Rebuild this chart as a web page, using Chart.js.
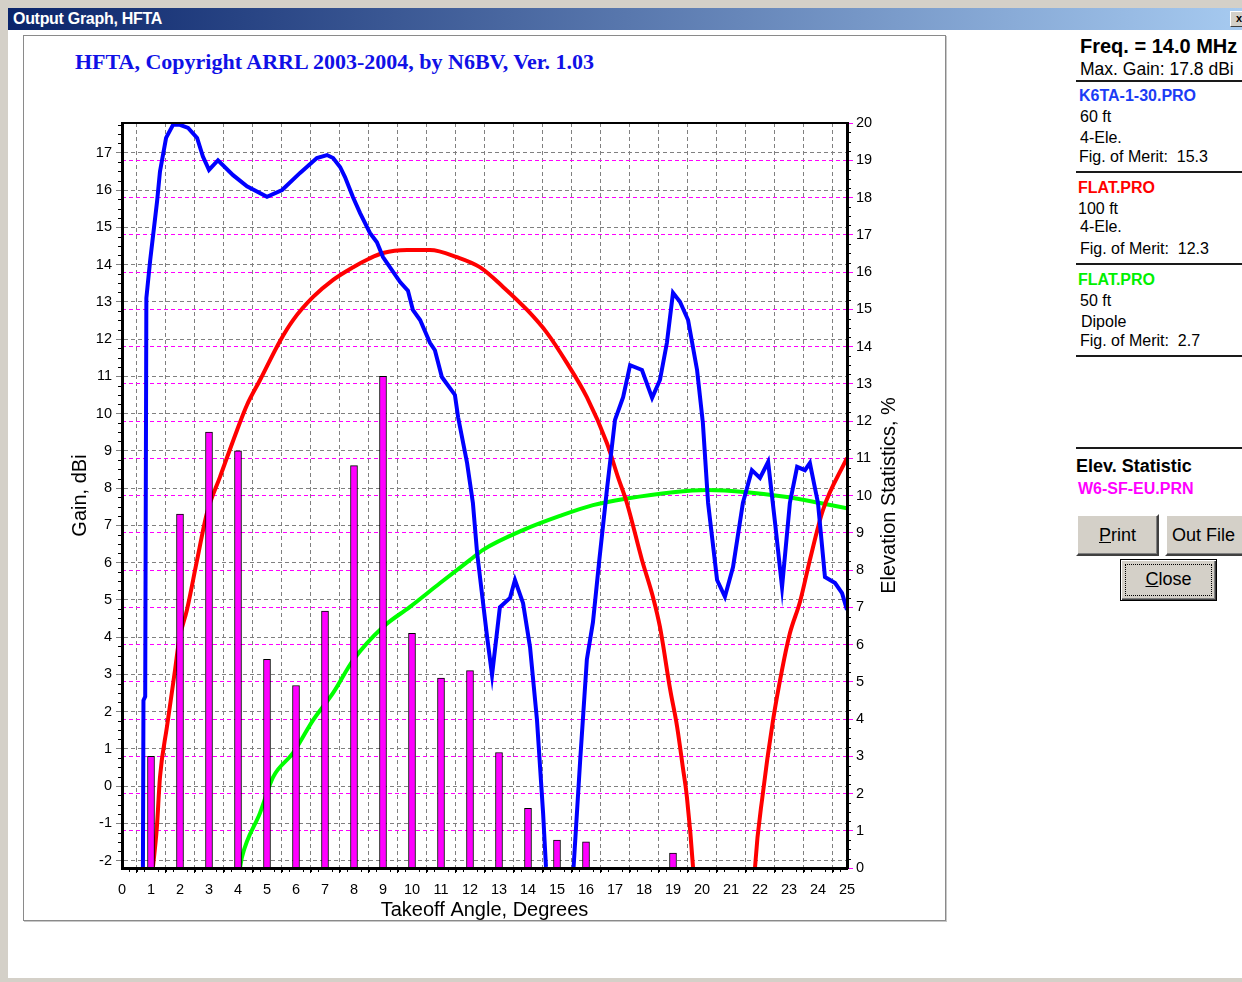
<!DOCTYPE html>
<html><head><meta charset="utf-8">
<script src="https://cdn.jsdelivr.net/npm/chart.js@4.4.1/dist/chart.umd.min.js"></script>
<style>
html,body{margin:0;padding:0;}
body{width:1242px;height:982px;background:#d4d0c8;position:relative;overflow:hidden;font-family:"Liberation Sans",Arial,sans-serif;}
#titlebar{position:absolute;left:8px;top:8px;width:1234px;height:22px;background:linear-gradient(to right,#0a246a,#a6caf0);}
#titlebar .t{position:absolute;left:5px;top:2px;color:#fff;font:bold 16px "Liberation Sans",Arial,sans-serif;letter-spacing:-0.3px;}
#xbtn{position:absolute;left:1230px;top:11px;width:16px;height:14px;background:#d4d0c8;border-top:1px solid #fff;border-left:1px solid #fff;border-right:1px solid #404040;border-bottom:1px solid #404040;font:bold 11px "Liberation Sans";text-align:center;line-height:13px;color:#000;}
#client{position:absolute;left:8px;top:30px;width:1234px;height:948px;background:#fff;}
#panel{position:absolute;left:23px;top:35px;width:921px;height:884px;border:1px solid #8a8a8a;box-shadow:1px 1px 0 #c8c8c8;background:#fff;}
#ctitle{position:absolute;left:75px;top:49px;font:bold 22px "Liberation Serif","Times New Roman",serif;color:#1010e6;white-space:nowrap;}
.r{position:absolute;left:1080px;white-space:nowrap;line-height:20px;font-size:16px;color:#000;}
.b{font-weight:bold;}
.sep{position:absolute;left:1076px;width:166px;height:0;border-top:2px solid #1a1a1a;}
.btn{position:absolute;background:#d4d0c8;box-sizing:border-box;border-top:2px solid #fff;border-left:2px solid #fff;border-right:2px solid #404040;border-bottom:2px solid #404040;box-shadow:inset -1px -1px 0 #808080;font-size:18px;color:#000;text-align:center;}
#chartwrap{position:absolute;left:0;top:0;width:1242px;height:982px;}
</style></head>
<body>
<div id="titlebar"><span class="t">Output Graph, HFTA</span></div>
<div id="xbtn">x</div>
<div id="client"></div>
<div id="panel"></div>
<div id="ctitle">HFTA, Copyright ARRL 2003-2004, by N6BV, Ver. 1.03</div>

<div class="r b" style="top:36px;font-size:20px;">Freq. = 14.0 MHz</div>
<div class="r" style="top:59px;font-size:17.5px;">Max. Gain: 17.8 dBi</div>
<div class="sep" style="top:80px;"></div>
<div class="r b" style="top:86px;left:1079px;color:#1b3cf5;">K6TA-1-30.PRO</div>
<div class="r" style="top:107px;">60 ft</div>
<div class="r" style="top:128px;">4-Ele.</div>
<div class="r" style="top:147px;left:1079px;">Fig. of Merit:&nbsp; 15.3</div>
<div class="sep" style="top:171px;"></div>
<div class="r b" style="top:178px;left:1078px;color:#ff0000;">FLAT.PRO</div>
<div class="r" style="top:199px;left:1078px;">100 ft</div>
<div class="r" style="top:217px;">4-Ele.</div>
<div class="r" style="top:239px;">Fig. of Merit:&nbsp; 12.3</div>
<div class="sep" style="top:263px;"></div>
<div class="r b" style="top:270px;left:1078px;color:#00f000;">FLAT.PRO</div>
<div class="r" style="top:291px;">50 ft</div>
<div class="r" style="top:312px;left:1081px;">Dipole</div>
<div class="r" style="top:331px;">Fig. of Merit:&nbsp; 2.7</div>
<div class="sep" style="top:355px;"></div>
<div class="sep" style="top:447px;"></div>
<div class="r b" style="top:456px;left:1076px;font-size:18px;">Elev. Statistic</div>
<div class="r b" style="top:479px;left:1078px;color:#ff00ff;">W6-SF-EU.PRN</div>
<div class="btn" style="left:1076px;top:514px;width:83px;height:42px;line-height:38px;"><u>P</u>rint</div>
<div class="btn" style="left:1165px;top:514px;width:83px;height:42px;line-height:38px;text-align:left;padding-left:5px;">Out File</div>
<div class="btn" style="left:1120px;top:559px;width:97px;height:42px;line-height:38px;border:1px solid #000;box-shadow:inset 1px 1px 0 #fff,inset -1px -1px 0 #404040,inset -2px -2px 0 #808080;">
  <div style="position:absolute;left:4px;top:4px;right:4px;bottom:4px;border:1px dotted #000;"></div><u>C</u>lose</div>

<div id="chartwrap"><canvas id="c" width="1242" height="982"></canvas></div>

<script>
// ---- data ----
const angleTicks = [0,1,2,3,4,5,6,7,8,9,10,11,12,13,14,15,16,17,18,19,20,21,22,23,24,25];
const gainTicks = [-2,-1,0,1,2,3,4,5,6,7,8,9,10,11,12,13,14,15,16,17];
const statTicks = [0,1,2,3,4,5,6,7,8,9,10,11,12,13,14,15,16,17,18,19,20];

// K6TA-1-30.PRO, 60 ft, 4-Ele. (gain, dBi)
const k6taAngle = [0.72,0.74,0.80,0.84,0.97,1.21,1.31,1.52,1.76,2.0,2.28,2.59,2.79,3.0,3.31,3.83,4.31,5.0,5.52,6.14,6.72,7.07,7.28,7.52,7.69,7.97,8.21,8.55,8.79,9.0,9.59,9.86,10.03,10.28,10.62,10.79,11.03,11.48,11.59,11.9,12.1,12.24,12.59,12.76,13.03,13.38,13.55,13.83,14.07,14.31,14.52,14.62,14.8,15.4,15.57,15.8,16.03,16.24,16.45,16.72,17.0,17.28,17.52,17.93,18.28,18.55,18.79,19.0,19.24,19.52,19.83,20.03,20.21,20.52,20.79,21.07,21.41,21.72,22.0,22.28,22.52,22.76,23.03,23.28,23.55,23.72,24.0,24.24,24.59,24.83,25.0];
const k6taGain  = [-2.6,2.3,2.4,13.1,14.1,15.7,16.5,17.4,17.75,17.75,17.67,17.4,16.9,16.54,16.8,16.4,16.1,15.82,16.0,16.46,16.86,16.94,16.86,16.62,16.35,15.8,15.38,14.85,14.6,14.2,13.53,13.3,12.78,12.51,11.9,11.7,10.98,10.5,9.9,8.67,7.6,6.3,4.0,2.98,4.8,5.05,5.53,4.91,3.73,1.77,-0.72,-2.17,-3.5,-3.5,-2.2,0.7,3.4,4.4,6.0,7.95,9.83,10.44,11.3,11.17,10.42,10.9,11.9,13.24,13.0,12.51,11.17,9.75,7.6,5.53,5.08,5.88,7.6,8.48,8.27,8.7,7.06,5.34,7.6,8.57,8.48,8.67,7.6,5.61,5.45,5.18,4.73];

// FLAT.PRO, 100 ft, 4-Ele. (gain, dBi)
const flat100Angle = [1.05,1.2,1.31,1.55,1.83,1.97,2.24,2.59,2.93,3.38,3.97,4.31,4.76,5.45,5.9,6.59,7.28,7.97,8.5,9.0,9.83,10.62,11.55,12.34,13.14,13.97,14.66,15.34,16.03,16.72,17.1,17.41,17.93,18.3,18.55,18.9,19.14,19.34,19.48,19.69,19.75,20.7,21.78,21.83,22.1,22.45,22.76,23.03,23.38,23.72,24.17,25.0];
const flat100Gain  = [-2.3,-1.13,0.24,1.59,3.12,3.92,4.73,6.07,7.33,8.3,9.56,10.23,10.9,11.95,12.51,13.13,13.59,13.93,14.15,14.31,14.39,14.39,14.2,13.93,13.4,12.78,12.16,11.36,10.44,9.21,8.3,7.6,6.07,5.1,4.27,2.6,1.6,0.5,-0.3,-2.17,-3.0,null,-3.0,-2.17,-0.19,1.77,3.12,4.1,4.95,6.07,7.41,8.81];

// FLAT.PRO, 50 ft, Dipole (gain, dBi)
const dipoleAngle = [4.07,4.14,4.76,5.21,5.9,6.59,7.28,7.97,9.0,9.93,10.97,12.0,12.45,13.83,15.1,16.24,17.41,19.0,20.17,21.55,22.93,24.07,25.0];
const dipoleGain  = [-2.2,-1.9,-0.72,0.24,0.89,1.77,2.5,3.38,4.27,4.81,5.45,6.07,6.34,6.87,7.25,7.54,7.72,7.89,7.95,7.89,7.76,7.6,7.46];

// W6-SF-EU.PRN elevation statistics (%)
const statAngle = [1,2,3,4,5,6,7,8,9,10,11,12,13,14,15,16,19];
const statPct   = [3.0,9.5,11.7,11.2,5.6,4.9,6.9,10.8,13.2,6.3,5.1,5.3,3.1,1.6,0.75,0.7,0.4];

const pts = (xs, ys) => xs.map((x, i) => ({x: x, y: ys[i]}));
const FONT = '"Liberation Sans", Arial, sans-serif';

const extras = {
  id: 'extras',
  afterDraw(chart) {
    const ctx = chart.ctx, a = chart.chartArea;
    const xs = chart.scales.x, yl = chart.scales.y, yr = chart.scales.y2;
    ctx.save();
    ctx.strokeStyle = '#000'; ctx.lineWidth = 1;
    ctx.beginPath();
    for (let v = 0; v <= 25.0001; v += 0.25) {
      if (Math.abs(v - Math.round(v)) < 1e-6) continue;
      const px = Math.round(xs.getPixelForValue(v)) + 0.5;
      ctx.moveTo(px, a.bottom + 1); ctx.lineTo(px, a.bottom + 4);
    }
    for (let v = -2; v <= 17.8; v += 0.25) {
      if (Math.abs(v - Math.round(v)) < 1e-6) continue;
      const py = Math.round(yl.getPixelForValue(v)) + 0.5;
      ctx.moveTo(a.left - 1, py); ctx.lineTo(a.left - 4, py);
    }
    for (let v = 0; v <= 20; v += 0.25) {
      if (Math.abs(v - Math.round(v)) < 1e-6) continue;
      const py = Math.round(yr.getPixelForValue(v)) + 0.5;
      ctx.moveTo(a.right + 1, py); ctx.lineTo(a.right + 4, py);
    }
    ctx.stroke();
    ctx.lineWidth = 2;
    ctx.beginPath(); ctx.moveTo(a.left, a.top); ctx.lineTo(a.right, a.top); ctx.stroke();
    // right axis title (reads bottom to top)
    ctx.fillStyle = '#000';
    ctx.font = '20px ' + FONT;
    ctx.textAlign = 'center'; ctx.textBaseline = 'middle';
    ctx.translate(889, (a.top + a.bottom) / 2);
    ctx.rotate(-Math.PI / 2);
    ctx.fillText('Elevation Statistics, %', 0, 0);
    ctx.restore();
  }
};

new Chart(document.getElementById('c'), {
  type: 'line',
  data: {
    datasets: [
      { type: 'bar', label: 'W6-SF-EU.PRN', data: pts(statAngle, statPct), yAxisID: 'y2',
        backgroundColor: '#ff00ff', borderColor: '#000', borderWidth: 1, borderSkipped: 'start',
        barThickness: 7, order: 0 },
      { label: 'K6TA-1-30.PRO', data: pts(k6taAngle, k6taGain), yAxisID: 'y',
        borderColor: '#0000ff', borderWidth: 4, pointRadius: 0, tension: 0, order: 1, spanGaps: false },
      { label: 'FLAT.PRO 100 ft', data: pts(flat100Angle, flat100Gain), yAxisID: 'y',
        borderColor: '#ff0000', borderWidth: 4, pointRadius: 0, cubicInterpolationMode: 'monotone', order: 2, spanGaps: false },
      { label: 'FLAT.PRO 50 ft', data: pts(dipoleAngle, dipoleGain), yAxisID: 'y',
        borderColor: '#00ff00', borderWidth: 4, pointRadius: 0, cubicInterpolationMode: 'monotone', order: 3 }
    ]
  },
  options: {
    responsive: false, animation: false, devicePixelRatio: 1,
    layout: { padding: { left: 24, right: 296, top: 123, bottom: 60 } },
    plugins: { legend: { display: false }, tooltip: { enabled: false }, title: { display: false } },
    scales: {
      x: {
        type: 'linear', min: 0, max: 25, offset: false,
        afterFit: s => { s.height = 54; },
        afterBuildTicks: s => { s.ticks = angleTicks.map(v => ({ value: v })); },
        ticks: { color: '#000', font: { size: 14.5, family: FONT }, padding: 8, maxRotation: 0, autoSkip: false },
        grid: { color: '#808080', lineWidth: 1, tickColor: '#000', tickLength: 5 },
        border: { display: true, color: '#000', width: 3, dash: [4, 3], z: 1 },
        title: { display: true, text: 'Takeoff Angle, Degrees', color: '#000', font: { size: 20, family: FONT }, padding: 0 }
      },
      y: {
        type: 'linear', position: 'left', min: -2.2, max: 17.8,
        afterFit: s => { s.width = 98; },
        afterBuildTicks: s => { s.ticks = gainTicks.map(v => ({ value: v })); },
        ticks: { color: '#000', font: { size: 14.5, family: FONT }, padding: 4 },
        grid: { color: '#808080', lineWidth: 1, tickColor: '#808080', tickLength: 6 },
        border: { display: true, color: '#000', width: 3, dash: [4, 3], z: 1 },
        title: { display: true, text: 'Gain, dBi', color: '#000', font: { size: 20, family: FONT }, padding: { top: 44 } }
      },
      y2: {
        type: 'linear', position: 'right', min: 0, max: 20,
        afterFit: s => { s.width = 99; },
        afterBuildTicks: s => { s.ticks = statTicks.map(v => ({ value: v })); },
        ticks: { color: '#000', font: { size: 14.5, family: FONT }, padding: 3 },
        grid: { color: '#ff00ff', lineWidth: 1, tickColor: '#ff00ff', tickLength: 6 },
        border: { display: true, color: '#000', width: 3, dash: [4, 3], z: 1 },
        title: { display: false }
      }
    }
  },
  plugins: [extras]
});
</script>
</body></html>
